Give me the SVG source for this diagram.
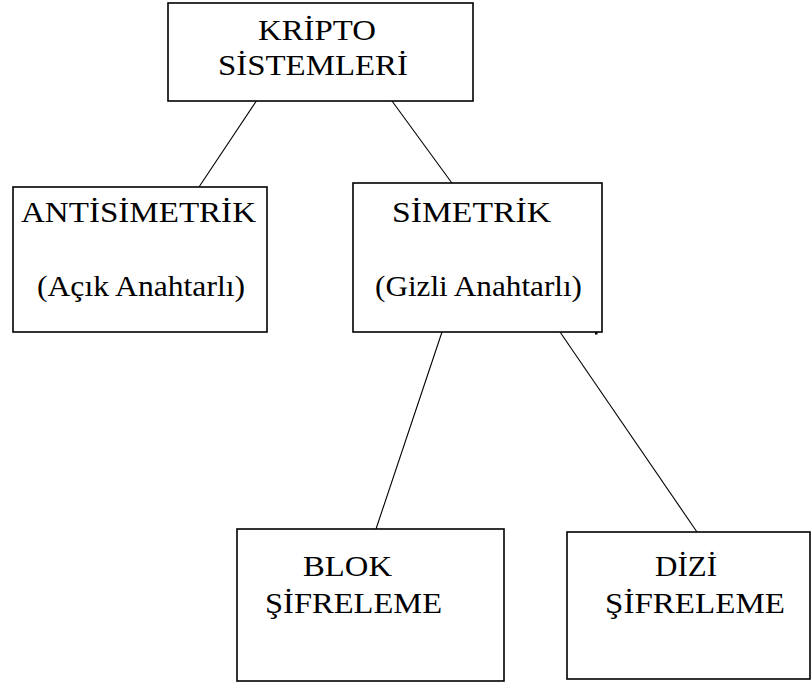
<svg xmlns="http://www.w3.org/2000/svg" width="811" height="682" viewBox="0 0 811 682">
<style>
.box{fill:#fff;stroke:#000;stroke-width:1.6}
.t{font-family:'Liberation Serif','Times New Roman',serif;font-size:29px;fill:#000}
.c{stroke:#000;stroke-width:1.1;fill:none}
</style>
<rect width="811" height="682" fill="#fff"/>
<g id="connectors">
<line class="c" x1="257" y1="100" x2="199" y2="187"/>
<line class="c" x1="392" y1="101" x2="457" y2="190"/>
<line class="c" x1="442" y1="332" x2="376" y2="529"/>
<line class="c" x1="560" y1="332" x2="697" y2="532"/>
</g>
<g id="kripto">
<rect class="box" x="168" y="3" width="305" height="98"/>
<text class="t" x="258" y="40" textLength="118" lengthAdjust="spacingAndGlyphs">KRİPTO</text>
<text class="t" x="218" y="75" textLength="190" lengthAdjust="spacingAndGlyphs">SİSTEMLERİ</text>
</g>
<g id="antisimetrik">
<rect class="box" x="13" y="187" width="254" height="145"/>
<text class="t" x="21" y="222" textLength="235" lengthAdjust="spacingAndGlyphs">ANTİSİMETRİK</text>
<text class="t" x="37" y="296" textLength="208" lengthAdjust="spacingAndGlyphs">(Açık Anahtarlı)</text>
</g>
<g id="simetrik">
<rect class="box" x="353" y="183" width="249" height="149"/>
<text class="t" x="392" y="222" textLength="159" lengthAdjust="spacingAndGlyphs">SİMETRİK</text>
<text class="t" x="375" y="296" textLength="207" lengthAdjust="spacingAndGlyphs">(Gizli Anahtarlı)</text>
<rect x="595" y="332" width="2.5" height="2.5" fill="#000"/>
</g>
<g id="blok">
<rect class="box" x="237" y="529" width="267" height="152"/>
<text class="t" x="303" y="576" textLength="89" lengthAdjust="spacingAndGlyphs">BLOK</text>
<text class="t" x="265" y="613" textLength="177" lengthAdjust="spacingAndGlyphs">ŞİFRELEME</text>
</g>
<g id="dizi">
<rect class="box" x="567" y="532" width="243" height="147"/>
<text class="t" x="655" y="576" textLength="62" lengthAdjust="spacingAndGlyphs">DİZİ</text>
<text class="t" x="605" y="613" textLength="180" lengthAdjust="spacingAndGlyphs">ŞİFRELEME</text>
</g>
</svg>
